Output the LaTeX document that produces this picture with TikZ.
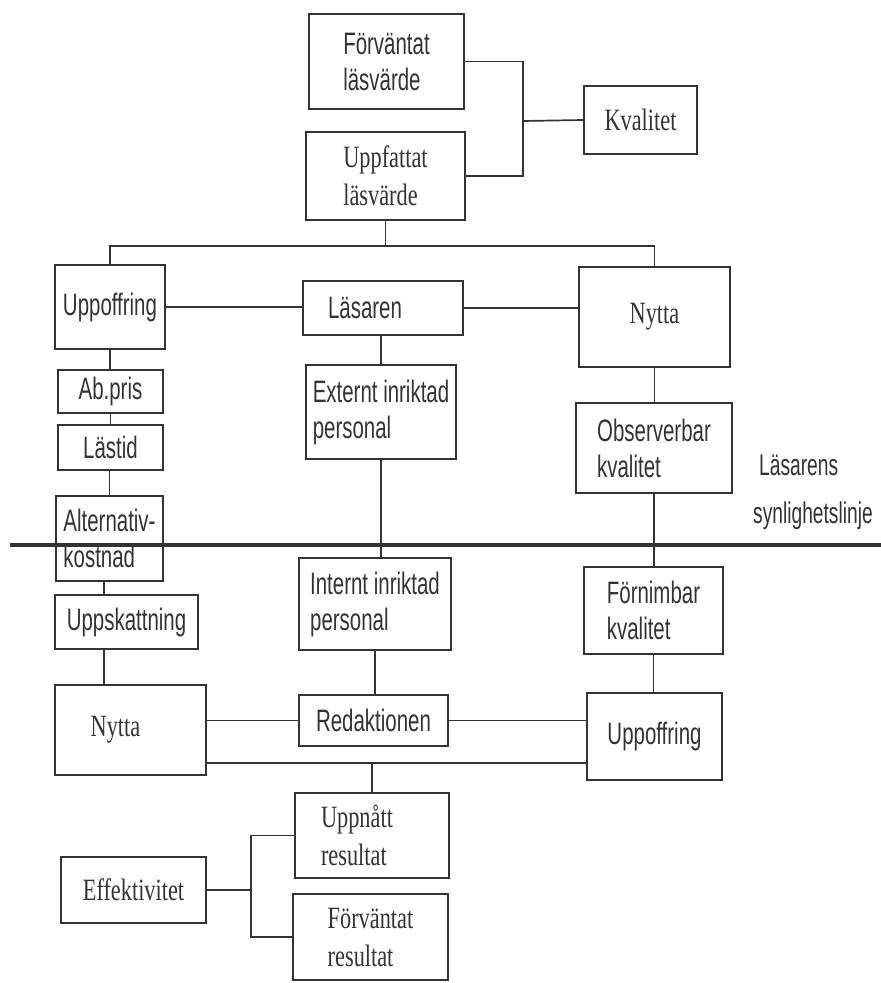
\documentclass[tikz,border=0pt]{standalone}
\usepackage{fontspec}
\setmainfont{Liberation Sans}[FakeStretch=0.66]
\newfontfamily\serifcond{Liberation Serif}[FakeStretch=0.72]
\newfontfamily\labelfont{Liberation Sans}[FakeStretch=0.64]
\definecolor{ink}{HTML}{333333}
\begin{document}
\begin{tikzpicture}[x=1pt,y=-1pt,
  every node/.style={text=ink},
  box/.style={draw=ink, line width=1.9pt, inner sep=0pt, align=left,
              font=\fontsize{31}{36}\selectfont},
  sbox/.style={box, font=\fontsize{31}{38}\serifcond\selectfont},
  link/.style={draw=ink, line width=1.7pt},
  sightline/.style={draw=ink, line width=4pt},
  lbl/.style={align=left, inner sep=0pt, font=\fontsize{30}{34}\labelfont}]
\useasboundingbox (0,0) rectangle (881,983);

% nodes
\node[box,  minimum width=155, minimum height=95] (fl)   at (386.5,61.5) {Förväntat\\läsvärde};
\node[sbox, minimum width=159, minimum height=88] (ul)   at (385.5,176)  {Uppfattat\\läsvärde};
\node[sbox, minimum width=113, minimum height=68] (kv)   at (640.5,120)  {Kvalitet};
\node[box,  minimum width=110, minimum height=84] (upp1) at (110,307)    {Uppoffring};
\node[box,  minimum width=160, minimum height=54] (las)  at (383,308)    {Läsaren\hspace*{36pt}};
\node[sbox, minimum width=151, minimum height=100] (ny1) at (654.5,317)  {Nytta};
\node[box,  minimum width=105, minimum height=43] (ab)   at (110.5,391.5) {Ab.pris};
\node[box,  minimum width=105, minimum height=45] (lt)   at (110.5,447.5) {Lästid};
\node[box,  minimum width=107, minimum height=85] (alt)  at (109.5,538.5) {Alternativ-\\kostnad};
\node[box,  minimum width=150, minimum height=94] (ext)  at (381,412)    {Externt inriktad\\personal};
\node[box,  minimum width=156, minimum height=90] (obs)  at (654,448)    {Observerbar\\kvalitet};
\node[box,  minimum width=152, minimum height=92] (int)  at (375,604)    {Internt inriktad\\personal};
\node[box,  minimum width=139, minimum height=87] (fk)   at (653.5,610.5) {Förnimbar\\kvalitet};
\node[box,  minimum width=143, minimum height=54] (usk)  at (126.5,622)  {Uppskattning};
\node[sbox, minimum width=151, minimum height=90] (ny2)  at (130.5,730)  {Nytta\hspace*{30pt}};
\node[box,  minimum width=149, minimum height=51] (red)  at (373.5,720.5) {Redaktionen};
\node[box,  minimum width=135, minimum height=87] (upp2) at (654.5,736.5) {Uppoffring};
\node[sbox, minimum width=154, minimum height=85] (un)   at (372,835.5)  {Uppnått\hspace*{30pt}\\resultat};
\node[sbox, minimum width=155, minimum height=86] (fr)   at (370.5,937)  {Förväntat\\resultat};
\node[sbox, minimum width=145, minimum height=66] (eff)  at (133.5,890)  {Effektivitet};

\node[lbl, anchor=west] (sl) at (753,492) {\hspace*{6pt}Läsarens\\[14pt]synlighetslinje};

% helper coordinates
\coordinate (kj)   at (523,121);
\coordinate (barY) at (0,246);
\coordinate (lx)   at (104,0);
\coordinate (lowY) at (0,763);
\coordinate (ej)   at (251,893);
\coordinate (sL)   at (10,545);
\coordinate (sR)   at (881,545);

% connectors
\draw[link] (fl.east) -| (kj) |- (ul.east);
\draw[link] (kj) -- (kv.west);
\draw[link] (ul.south) -- (ul.south |- barY);
\draw[link] (upp1.north) |- (barY -| ny1.north) -- (ny1.north);
\draw[link] (upp1.east) -- (upp1.east -| las.west);
\draw[link] (las.east) -- (las.east -| ny1.west);
\draw[link] (upp1.south) -- (upp1.south |- ab.north);
\draw[link] (ab.south) -- (lt.north);
\draw[link] (lt.south -| alt.north) -- (alt.north);
\draw[link] (alt.south -| lx) -- (usk.north -| lx);
\draw[link] (usk.south -| lx) -- (ny2.north -| lx);
\draw[link] (ext.north |- las.south) -- (ext.north);
\draw[link] (ext.south) -- (ext.south |- int.north);
\draw[link] (int.south) -- (int.south |- red.north);
\draw[link] (ny1.south) -- (ny1.south |- obs.north);
\draw[link] (obs.south) -- (obs.south |- fk.north);
\draw[link] (fk.south) -- (fk.south |- upp2.north);
\draw[link] (red.west -| ny2.east) -- (red.west);
\draw[link] (red.east) -- (red.east -| upp2.west);
\draw[link] (lowY -| ny2.east) -- (lowY -| upp2.west);
\draw[link] (un.north |- lowY) -- (un.north);
\draw[link] (eff.east) -- (eff.east -| ej);
\draw[link] (un.west) -| (ej) |- (fr.west);
\draw[sightline] (sL) -- (sR);
\end{tikzpicture}
\end{document}
